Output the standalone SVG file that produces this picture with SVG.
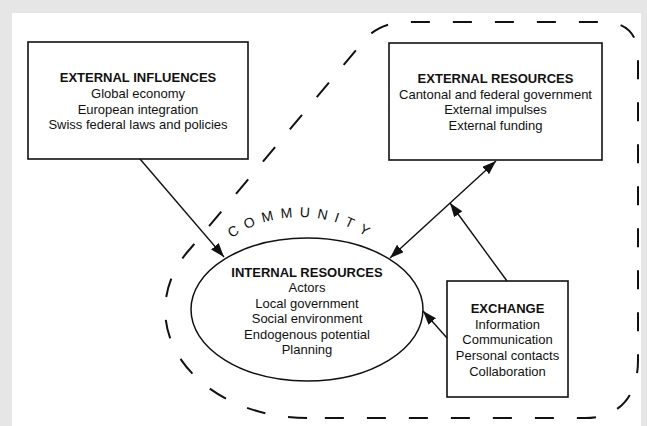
<svg xmlns="http://www.w3.org/2000/svg" width="647" height="426" viewBox="0 0 647 426">
<style>
.box{fill:#fff;stroke:#111;stroke-width:1.6}
.t{font-family:"Liberation Sans",Arial,sans-serif;font-size:13px;fill:#111;text-anchor:middle}
.b{font-weight:bold}
.conn{stroke:#111;stroke-width:1.4;fill:none}
.bound{fill:none;stroke:#111;stroke-width:2;stroke-dasharray:19 23}
</style>
<defs>
<marker id="ah" markerUnits="userSpaceOnUse" markerWidth="15" markerHeight="11" refX="14" refY="5" orient="auto-start-reverse">
<path d="M0,0 L14,5 L0,10 z" fill="#111"/>
</marker>
</defs>
<rect x="0" y="0" width="647" height="426" fill="#e6e6e6"/>
<rect x="12" y="13" width="629" height="413" fill="#fff"/>
<g id="community">
<path class="bound" d="M 307,418 A 142,108 0 0 1 190,249 L 362,43 Q 377,23 405,22 L 603,22 Q 638,22 638,57 L 638,360 C 638,395 620,418 585,418 Z"/>
<path id="arc" d="M 179,338 A 121,121 0 0 1 421,338" fill="none"/>
<text class="t" style="font-size:14px;letter-spacing:7px"><textPath href="#arc" startOffset="50.5%">COMMUNITY</textPath></text>
</g>
<g id="external-influences">
<rect class="box" x="28" y="42" width="220" height="117"/>
<text class="t b" x="138" y="82">EXTERNAL INFLUENCES</text>
<text class="t" x="138" y="98">Global economy</text>
<text class="t" x="138" y="113.5">European integration</text>
<text class="t" x="138" y="129">Swiss federal laws and policies</text>
</g>
<g id="external-resources">
<rect class="box" x="389" y="43" width="213" height="117"/>
<text class="t b" x="495.5" y="83">EXTERNAL RESOURCES</text>
<text class="t" x="495.5" y="98.5">Cantonal and federal government</text>
<text class="t" x="495.5" y="114">External impulses</text>
<text class="t" x="495.5" y="129.5">External funding</text>
</g>
<g id="internal-resources">
<ellipse cx="307" cy="309.5" rx="116" ry="71.5" fill="#fff" stroke="#111" stroke-width="1.5"/>
<text class="t b" x="307" y="276.5">INTERNAL RESOURCES</text>
<text class="t" x="307" y="292">Actors</text>
<text class="t" x="307" y="307.6">Local government</text>
<text class="t" x="307" y="323.2">Social environment</text>
<text class="t" x="307" y="338.8">Endogenous potential</text>
<text class="t" x="307" y="354.4">Planning</text>
</g>
<g id="exchange">
<rect class="box" x="447" y="281" width="121" height="116"/>
<text class="t b" x="507.5" y="313">EXCHANGE</text>
<text class="t" x="507.5" y="328.5">Information</text>
<text class="t" x="507.5" y="344.2">Communication</text>
<text class="t" x="507.5" y="359.8">Personal contacts</text>
<text class="t" x="507.5" y="375.5">Collaboration</text>
</g>
<g id="connectors">
<line class="conn" x1="140" y1="159" x2="224" y2="257" marker-end="url(#ah)"/>
<line class="conn" x1="496" y1="161" x2="390" y2="258" marker-start="url(#ah)" marker-end="url(#ah)"/>
<line class="conn" x1="507" y1="281" x2="450" y2="203" marker-end="url(#ah)"/>
<line class="conn" x1="447" y1="338" x2="423" y2="311" marker-end="url(#ah)"/>
</g>
</svg>
